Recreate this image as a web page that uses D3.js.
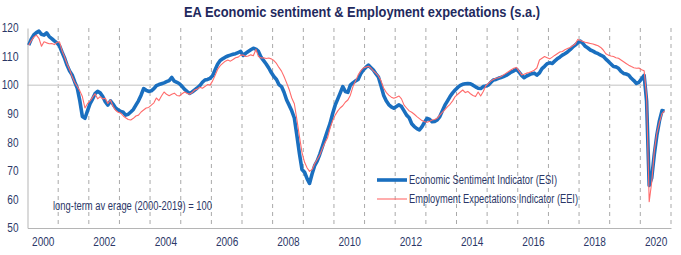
<!DOCTYPE html>
<html><head><meta charset="utf-8">
<script src="https://cdn.jsdelivr.net/npm/d3@7"></script>
<style>
html,body{margin:0;padding:0;background:#fff;}
svg{display:block;}
</style></head>
<body><svg id="c" width="681" height="255"></svg>
<script>
// ---- data (monthly, Jan 2000 - Oct 2020) ----
const startYear = 2000;
const esi = [
 114.0,116.2,117.6,118.4,118.9,117.8,117.5,118.3,117.0,116.3,115.5,114.8,
 113.8,111.5,109.6,107.0,105.0,103.6,101.2,99.0,94.5,89.0,88.4,91.0,
 93.5,95.2,97.0,97.8,97.3,96.0,94.2,93.0,94.5,93.4,92.0,91.3,
 90.8,90.5,89.5,89.8,90.6,91.5,93.0,94.5,96.5,98.8,98.2,97.8,
 98.0,98.8,99.8,100.2,100.5,100.8,101.2,101.6,102.7,101.4,101.0,100.5,
 99.6,98.5,97.8,97.1,97.6,98.3,99.0,99.8,101.0,101.8,102.0,102.4,
 103.3,105.5,107.3,108.6,109.2,109.8,110.2,110.5,110.8,111.0,111.4,111.8,
 110.4,111.2,111.8,112.4,112.9,112.6,111.8,109.8,108.6,107.4,106.0,104.4,
 103.0,102.0,100.2,99.5,97.5,94.8,93.0,91.0,88.5,82.5,76.0,70.5,
 69.5,67.2,65.6,69.0,71.8,73.5,75.8,78.5,81.4,84.0,86.6,90.0,
 93.0,95.2,97.2,99.5,97.8,97.5,100.0,100.8,101.5,102.0,104.0,105.3,
 106.2,107.0,106.2,105.3,104.0,102.8,99.8,96.5,94.5,93.2,92.4,91.9,
 92.5,93.1,92.5,91.0,89.5,88.6,86.5,85.5,84.8,84.3,85.5,87.0,
 88.4,88.0,87.2,87.3,87.8,89.0,91.0,93.0,94.5,96.0,97.3,98.3,
 99.2,99.9,100.3,100.5,100.6,100.5,100.0,99.4,98.9,98.8,99.5,99.7,
 100.0,101.0,101.8,102.0,102.4,102.7,103.0,103.4,104.0,104.6,105.0,105.6,
 104.6,103.4,102.6,103.2,103.6,104.0,104.2,103.5,104.3,105.8,106.6,107.5,
 107.8,107.6,108.4,109.2,109.8,110.5,111.0,111.6,112.4,113.3,114.0,114.8,
 115.4,114.6,113.6,113.0,112.3,111.9,111.4,111.0,110.5,110.1,109.1,108.3,
 107.4,106.5,106.4,105.9,104.8,104.1,103.9,103.5,102.4,101.6,100.6,101.0,
 102.2,103.4,94.5,64.9,67.5,75.8,82.4,87.5,91.1,90.9
];
const eei = [
 114.0,115.6,116.8,117.5,116.4,113.6,115.2,114.8,114.5,114.6,114.2,115.0,
 115.2,112.0,110.0,107.5,105.5,103.0,101.0,99.5,98.0,96.0,92.0,93.5,
 94.5,95.8,97.0,95.2,96.0,95.2,95.4,93.6,94.8,92.6,91.2,90.5,
 90.2,89.2,88.6,88.0,87.8,88.4,89.2,89.5,90.6,91.3,92.0,92.2,
 93.0,93.8,95.5,94.6,96.2,97.6,96.8,96.3,96.8,97.2,96.4,96.2,
 97.0,97.6,97.2,96.8,97.4,98.3,98.6,99.3,98.9,99.5,100.2,100.0,
 101.5,103.5,105.5,106.8,107.6,108.4,108.8,108.4,109.0,109.6,109.8,110.5,
 110.5,110.0,110.2,110.6,110.3,112.5,110.0,109.5,109.6,109.3,109.5,109.2,
 108.6,107.6,106.2,104.9,103.0,100.8,98.5,95.5,93.5,88.0,82.0,76.5,
 73.0,71.0,69.8,70.5,72.5,74.0,75.5,77.8,79.8,81.5,85.0,87.5,
 89.5,91.0,92.0,92.8,94.0,94.8,96.5,99.5,101.5,103.5,105.0,106.0,
 106.3,106.6,106.0,105.0,104.2,103.2,101.5,99.0,97.5,96.5,95.8,95.4,
 95.8,96.2,95.2,93.0,92.0,91.0,90.5,89.8,89.0,88.3,87.6,87.2,
 87.0,87.4,87.8,88.0,88.4,89.5,90.5,91.4,92.5,93.3,94.5,96.0,
 96.8,97.6,98.3,97.4,97.8,97.0,96.4,96.0,97.6,96.2,97.8,99.8,
 100.6,101.5,102.0,102.4,102.6,103.0,103.6,104.2,104.8,105.4,105.9,106.2,
 105.0,103.6,103.8,104.2,104.4,104.8,105.2,106.0,108.8,109.4,110.0,109.6,
 109.2,109.8,110.4,111.0,111.6,111.8,112.4,112.8,113.2,113.8,114.4,116.0,
 115.6,115.3,115.0,114.8,114.6,114.4,114.1,113.8,113.2,112.3,111.0,110.5,
 110.2,110.0,109.6,109.4,108.8,108.2,107.6,107.0,106.5,106.1,105.9,106.0,
 105.4,105.0,96.0,59.2,66.0,77.0,83.0,87.0,90.0,91.0
];
const yTicks = [50,60,70,80,90,100,110,120];
const xLabelYears = [2000,2002,2004,2006,2008,2010,2012,2014,2016,2018,2020];
const gridYears = [2001,2002,2003,2004,2005,2006,2007,2008,2009,2010,2011,2012,2013,2014,2015,2016,2017,2018,2019,2020,2021];
const seriesNames = ["Economic Sentiment Indicator (ESI)","Employment Expectations Indicator (EEI)"];
const titleText = "EA Economic sentiment & Employment expectations (s.a.)";
const noteText = "long-term av erage (2000-2019) = 100";

// ---- chart ----
const svg = d3.select("#c");
const L = 27.5, R = 671, T = 28, B = 228;
const x = d3.scaleTime().domain([new Date(2000,0,1), new Date(2021,0,1)]).range([L, R]);
const y = d3.scaleLinear().domain([50,120]).range([B, T]);
const monthDate = i => new Date(startYear + Math.floor(i/12), i%12, 16);

const navy = "#2b3767";
const lab = "'Liberation Sans',Arial,sans-serif";
const digitW = 5.6; // condensed digit width in the reference

// vertical dashed gridlines
svg.append("g").selectAll("line").data(gridYears).join("line")
  .attr("x1", d => x(new Date(d,0,1))).attr("x2", d => x(new Date(d,0,1)))
  .attr("y1", T).attr("y2", B)
  .attr("stroke", "#a9a9a9").attr("stroke-width", 1).attr("stroke-dasharray", "4,4");

// 100 reference line
svg.append("line").attr("x1", L).attr("x2", R).attr("y1", y(100)).attr("y2", y(100))
  .attr("stroke", "#d6d6d6").attr("stroke-width", 1.5);

// axes
const ya = svg.append("g").attr("transform", `translate(${L},0)`)
  .call(d3.axisLeft(y).tickValues(yTicks).tickSize(0).tickPadding(9).tickFormat(d3.format("d")));
ya.select(".domain").attr("stroke", "#b5b5b5").attr("stroke-width", 1);
ya.selectAll("text").attr("fill", navy).style("font-family", lab).style("font-size", "12px")
  .attr("textLength", d => String(d).length * digitW).attr("lengthAdjust", "spacingAndGlyphs");

const xa = svg.append("g").attr("transform", `translate(0,${B})`)
  .call(d3.axisBottom(x).tickValues(xLabelYears.map(d => new Date(d,6,1))).tickSize(0).tickPadding(9).tickFormat(d3.timeFormat("%Y")));
xa.select(".domain").attr("stroke", "#b5b5b5").attr("stroke-width", 1.2);
xa.selectAll("text").attr("fill", navy).style("font-family", lab).style("font-size", "12px")
  .attr("textLength", 4 * digitW).attr("lengthAdjust", "spacingAndGlyphs");

// lines
const line = d3.line().x((d,i) => x(monthDate(i))).y(d => y(d));
svg.append("path").datum(esi).attr("d", line).attr("fill","none")
  .attr("stroke", "#1a6fbf").attr("stroke-width", 3.6).attr("stroke-linejoin","round");
svg.append("path").datum(eei).attr("d", line).attr("fill","none")
  .attr("stroke", "#ff6b6b").attr("stroke-width", 1.1).attr("stroke-linejoin","round");

// title
svg.append("text").attr("x", 362).attr("y", 17).attr("text-anchor","middle")
  .attr("fill", "#1f2a5e").style("font-family","'Liberation Sans',Arial,sans-serif")
  .style("font-size","15px").style("font-weight","bold")
  .attr("textLength", 356).attr("lengthAdjust","spacingAndGlyphs").text(titleText);

// legend
const lg = svg.append("g");
const lgItems = [{name: seriesNames[0], color:"#1a6fbf", w:3.6, y:180, len:148},
                 {name: seriesNames[1], color:"#ff6b6b", w:1.1, y:199, len:169}];
lgItems.forEach(it => {
  lg.append("line").attr("x1",377).attr("x2",407).attr("y1",it.y).attr("y2",it.y)
    .attr("stroke", it.color).attr("stroke-width", it.w);
  lg.append("text").attr("x",409).attr("y",it.y+4).attr("fill",navy)
    .style("font-family", lab).style("font-size","12px")
    .attr("textLength", it.len).attr("lengthAdjust","spacingAndGlyphs").text(it.name);
});

// note
svg.append("text").attr("x",53).attr("y",210).attr("fill",navy)
  .style("font-family", lab).style("font-size","12px")
  .attr("textLength", 159).attr("lengthAdjust","spacingAndGlyphs").text(noteText);
</script></body></html>
